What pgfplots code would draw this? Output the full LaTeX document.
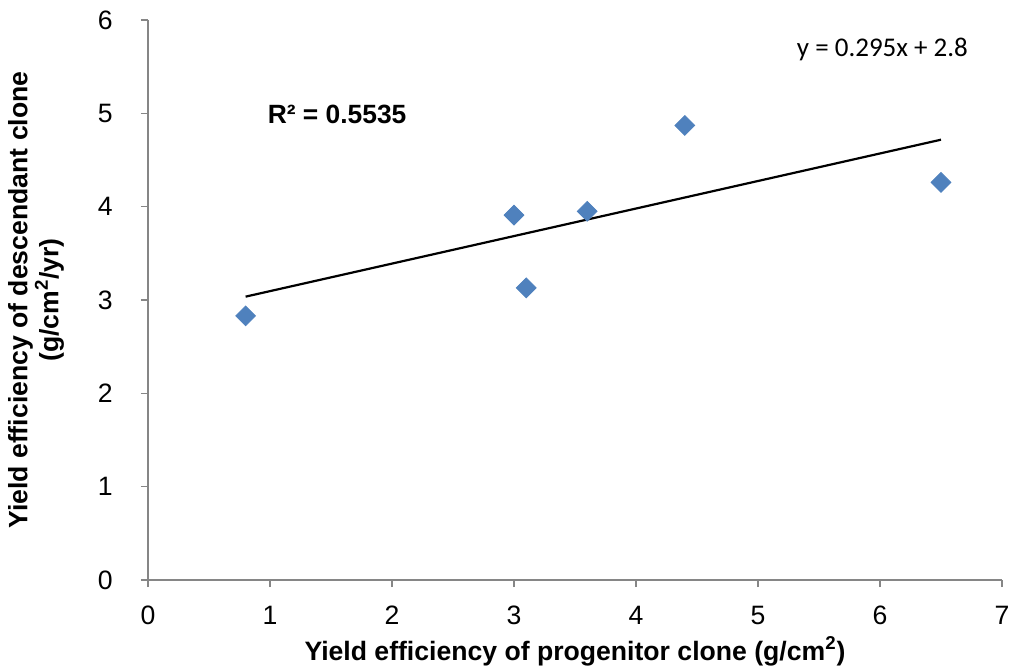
\documentclass[border=0pt]{standalone}
\usepackage{pgfplots}
\pgfplotsset{compat=1.18}
\usepackage{fontspec}
\setmainfont{Liberation Sans}
\newfontfamily\calibri{Carlito}
\definecolor{xlblue}{RGB}{79,129,189}
\definecolor{xlaxis}{RGB}{134,134,134}

\begin{document}
\fontsize{13.3pt}{14pt}\selectfont
\begin{tikzpicture}
\begin{axis}[
  at={(0,0)},anchor=south west,
  scale only axis,width=427pt,height=280pt,
  xmin=0,xmax=7,ymin=0,ymax=6,
  xtick={0,...,7},ytick={0,...,6},
  axis lines*=left,
  axis line style={xlaxis,line width=0.8pt,-},
  tick style={xlaxis,line width=0.8pt},
  tick align=outside,major tick length=3.5pt,
  /pgf/number format/assume math mode=true,
  tick label style={font=\fontsize{13.3pt}{14pt}\selectfont},
  xticklabel style={yshift=-5pt},
  yticklabel style={xshift=-9.5pt},
  xlabel={\bfseries Yield efficiency of progenitor clone (g/cm\textsuperscript{2})},
  ylabel={\bfseries Yield efficiency of descendant clone\\\bfseries (g/cm\textsuperscript{2}/yr)},
  xlabel style={at={(axis description cs:0.5,-0.127)},anchor=center},
  ylabel style={at={(axis description cs:-0.131,0.5)},anchor=center,align=center},
  clip=false,
]
\addplot[only marks,mark=square*,mark size=3.5pt,
  mark options={rotate=45,fill=xlblue,draw=xlblue}]
  coordinates {(0.8,2.83) (3.0,3.91) (3.1,3.13) (3.6,3.95) (4.4,4.87) (6.5,4.26)};
\addplot[black,line width=1.1pt] coordinates {(0.8,3.036) (6.5,4.7175)};
\node[font=\calibri\fontsize{13.5pt}{15pt}\selectfont] at (axis cs:6.02,5.68) {y = 0.295x + 2.8};
\node[font=\bfseries\fontsize{13.2pt}{15pt}\selectfont] at (axis cs:1.55,4.99) {R² = 0.5535};
\end{axis}
\pgfresetboundingbox
\useasboundingbox (-74pt,-44.5pt) rectangle (431.5pt,290pt);
\end{tikzpicture}
\end{document}
